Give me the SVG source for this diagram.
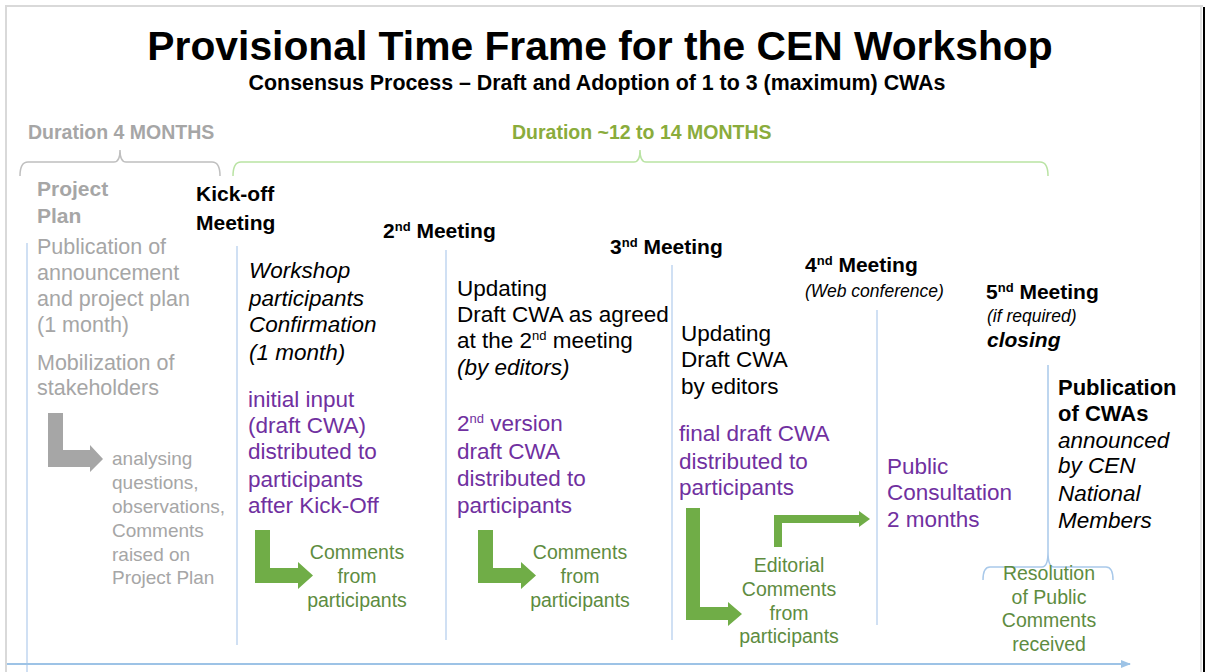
<svg xmlns="http://www.w3.org/2000/svg" width="1205" height="672" viewBox="0 0 1205 672">
  <defs>
    <style>
      text { font-family: "Liberation Sans", Arial, sans-serif; }
      .title { font-size: 40.8px; font-weight: bold; fill: #000; }
      .sub { font-size: 21.4px; font-weight: bold; fill: #000; }
      .dur-gray { font-size: 19.5px; font-weight: bold; fill: #a6a6a6; }
      .dur-green { font-size: 19.5px; font-weight: bold; fill: #8aac3c; }
      .meet { font-size: 21px; font-weight: bold; fill: #000; }
      .pub { font-size: 22px; font-weight: bold; fill: #000; }
      .head-gray { font-size: 21px; font-weight: bold; fill: #a6a6a6; }
      .body { font-size: 22.5px; fill: #000; }
      .gray { font-size: 21.5px; fill: #a6a6a6; }
      .gray-s { font-size: 19px; fill: #a6a6a6; }
      .purple { font-size: 22.5px; fill: #7030a0; }
      .note { font-size: 19.5px; fill: #5e8c3f; text-anchor: middle; }
      .it { font-style: italic; }
      .small-it { font-size: 17.5px; font-style: italic; fill: #000; }
      .sup { font-size: 13px; }
      .vline { stroke: #c5d9f1; stroke-width: 1.6; fill: none; }
      .brace-gray { stroke: #bfbfbf; stroke-width: 1.5; fill: none; }
      .brace-green { stroke: #b9e3a3; stroke-width: 1.5; fill: none; }
      .brace-blue { stroke: #a9c9ea; stroke-width: 1.5; fill: none; }
      .arrow-green { fill: #70ad47; }
      .arrow-gray { fill: #a6a6a6; }
    </style>
    <marker id="axisHead" markerWidth="10" markerHeight="8" refX="9" refY="4" orient="auto" markerUnits="userSpaceOnUse">
      <path d="M0,0 L10,4 L0,8 Z" fill="#9dc3e6"/>
    </marker>
  </defs>

  <rect width="1205" height="672" fill="#fff"/>

  <!-- slide frame -->
  <g id="frame">
    <line x1="5" y1="6" x2="1203" y2="6" stroke="#d9d9d9" stroke-width="2"/>
    <line x1="6" y1="6" x2="6" y2="672" stroke="#d9d9d9" stroke-width="2"/>
    <line x1="1201" y1="6" x2="1201" y2="672" stroke="#d9d9d9" stroke-width="1.5"/>
    <rect x="1203" y="7" width="2" height="665" fill="#000"/>
  </g>

  <!-- headings -->
  <g id="title">
    <text class="title" x="600" y="60" text-anchor="middle">Provisional Time Frame for the CEN Workshop</text>
    <text class="sub" x="597" y="90" text-anchor="middle">Consensus Process – Draft and Adoption of 1 to 3 (maximum) CWAs</text>
  </g>

  <!-- duration braces -->
  <g id="durations">
    <text class="dur-gray" x="28" y="139">Duration 4 MONTHS</text>
    <path class="brace-gray" d="M20,176 Q20,162 28,162 L114,162 Q120,162 120,150 Q120,162 126,162 L212,162 Q220,162 220,176"/>
    <text class="dur-green" x="512" y="139">Duration ~12 to 14 MONTHS</text>
    <path class="brace-green" d="M233,176 Q233,162 241,162 L634,162 Q640,162 640,150 Q640,162 646,162 L1040,162 Q1048,162 1048,176"/>
  </g>

  <!-- timeline connectors -->
  <g id="connectors">
    <line class="vline" x1="27" y1="243" x2="27" y2="672"/>
    <line class="vline" x1="237" y1="246" x2="237" y2="645"/>
    <line class="vline" x1="446" y1="250" x2="446" y2="640"/>
    <line class="vline" x1="672" y1="265" x2="672" y2="640"/>
    <line class="vline" x1="877" y1="310" x2="877" y2="625"/>
    <path class="brace-blue" d="M1048,365 L1048,552 Q1048,567 1042,567 L990,567 Q983,567 983,580 M1048,552 Q1048,567 1054,567 L1106,567 Q1113,567 1113,580"/>
    <line x1="7" y1="664" x2="1130" y2="664" stroke="#9dc3e6" stroke-width="2" marker-end="url(#axisHead)"/>
  </g>

  <!-- project plan -->
  <g id="project-plan">
    <text class="head-gray" x="37" y="196">Project</text>
    <text class="head-gray" x="37" y="223">Plan</text>
    <text class="gray" x="37" y="254">Publication of</text>
    <text class="gray" x="37" y="280">announcement</text>
    <text class="gray" x="37" y="306">and project plan</text>
    <text class="gray" x="37" y="332">(1 month)</text>
    <text class="gray" x="37" y="370">Mobilization of</text>
    <text class="gray" x="37" y="395">stakeholders</text>
    <path class="arrow-gray" d="M48,413 L63,413 L63,450 L90,450 L90,445 L103,459 L90,472 L90,467 L48,467 Z"/>
    <g class="gray-s">
      <text x="112" y="465">analysing</text>
      <text x="112" y="489">questions,</text>
      <text x="112" y="513">observations,</text>
      <text x="112" y="537">Comments</text>
      <text x="112" y="561">raised on</text>
      <text x="112" y="584">Project Plan</text>
    </g>
  </g>

  <!-- kick-off meeting -->
  <g id="kickoff">
    <text class="meet" x="196" y="201">Kick-off</text>
    <text class="meet" x="196" y="230">Meeting</text>
    <text class="body it" x="249" y="278">Workshop</text>
    <text class="body it" x="249" y="306">participants</text>
    <text class="body it" x="249" y="332">Confirmation</text>
    <text class="body it" x="249" y="360">(1 month)</text>
    <text class="purple" x="248" y="407">initial input</text>
    <text class="purple" x="248" y="433">(draft CWA)</text>
    <text class="purple" x="248" y="459">distributed to</text>
    <text class="purple" x="248" y="487">participants</text>
    <text class="purple" x="248" y="513">after Kick-Off</text>
    <path class="arrow-green" d="M255,530 L270,530 L270,568 L298,568 L298,562 L313,575.5 L298,589 L298,583 L255,583 Z"/>
    <text class="note" x="357" y="559">Comments</text>
    <text class="note" x="357" y="583">from</text>
    <text class="note" x="357" y="607">participants</text>
  </g>

  <!-- second meeting -->
  <g id="meeting-2">
    <text class="meet" x="383" y="238">2<tspan class="sup" dy="-7">nd</tspan><tspan dy="7"> Meeting</tspan></text>
    <text class="body" x="457" y="296">Updating</text>
    <text class="body" x="457" y="322">Draft CWA as agreed</text>
    <text class="body" x="457" y="348">at the 2<tspan class="sup" dy="-8">nd</tspan><tspan dy="8"> meeting</tspan></text>
    <text class="body it" x="457" y="375">(by editors)</text>
    <text class="purple" x="457" y="431">2<tspan class="sup" dy="-8">nd</tspan><tspan dy="8"> version</tspan></text>
    <text class="purple" x="457" y="459">draft CWA</text>
    <text class="purple" x="457" y="486">distributed to</text>
    <text class="purple" x="457" y="513">participants</text>
    <path class="arrow-green" d="M478,530 L493,530 L493,568 L521,568 L521,562 L536,575.5 L521,589 L521,583 L478,583 Z"/>
    <text class="note" x="580" y="559">Comments</text>
    <text class="note" x="580" y="583">from</text>
    <text class="note" x="580" y="607">participants</text>
  </g>

  <!-- third meeting -->
  <g id="meeting-3">
    <text class="meet" x="610" y="254">3<tspan class="sup" dy="-7">nd</tspan><tspan dy="7"> Meeting</tspan></text>
    <text class="body" x="681" y="341">Updating</text>
    <text class="body" x="681" y="367">Draft CWA</text>
    <text class="body" x="681" y="394">by editors</text>
    <text class="purple" x="679" y="441">final draft CWA</text>
    <text class="purple" x="679" y="469">distributed to</text>
    <text class="purple" x="679" y="495">participants</text>
    <path class="arrow-green" d="M686,508 L700,508 L700,607 L728,607 L728,602 L742,614 L728,626 L728,620 L686,620 Z"/>
    <path class="arrow-green" d="M774,547 L774,515 L859,515 L859,511 L870,519 L859,527 L859,523 L782,523 L782,547 Z"/>
    <text class="note" x="789" y="572">Editorial</text>
    <text class="note" x="789" y="596">Comments</text>
    <text class="note" x="789" y="620">from</text>
    <text class="note" x="789" y="643">participants</text>
  </g>

  <!-- fourth meeting -->
  <g id="meeting-4">
    <text class="meet" x="805" y="272">4<tspan class="sup" dy="-7">nd</tspan><tspan dy="7"> Meeting</tspan></text>
    <text class="small-it" x="805" y="297">(Web conference)</text>
    <text class="purple" x="887" y="474">Public</text>
    <text class="purple" x="887" y="500">Consultation</text>
    <text class="purple" x="887" y="527">2 months</text>
  </g>

  <!-- fifth meeting -->
  <g id="meeting-5">
    <text class="meet" x="986" y="299">5<tspan class="sup" dy="-7">nd</tspan><tspan dy="7"> Meeting</tspan></text>
    <text class="small-it" x="987" y="322">(if required)</text>
    <text class="meet it" x="987" y="347">closing</text>
  </g>

  <!-- publication -->
  <g id="publication">
    <text class="pub" x="1058" y="395">Publication</text>
    <text class="pub" x="1058" y="421">of CWAs</text>
    <text class="body it" x="1058" y="448">announced</text>
    <text class="body it" x="1058" y="473">by CEN</text>
    <text class="body it" x="1058" y="501">National</text>
    <text class="body it" x="1058" y="528">Members</text>
  </g>

  <!-- resolution of public comments -->
  <g id="resolution">
    <text class="note" x="1049" y="580">Resolution</text>
    <text class="note" x="1049" y="604">of Public</text>
    <text class="note" x="1049" y="627">Comments</text>
    <text class="note" x="1049" y="651">received</text>
  </g>
</svg>
